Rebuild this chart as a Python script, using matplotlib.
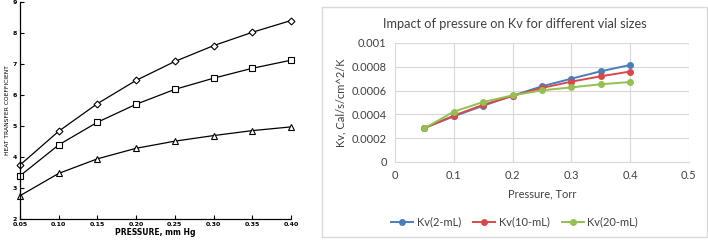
import numpy as np
import matplotlib.pyplot as plt

# left panel: scanned heat transfer coefficient chart
p_mmhg = [0.05, 0.10, 0.15, 0.20, 0.25, 0.30, 0.35, 0.40]
htc_diamond = [3.74, 4.83, 5.72, 6.47, 7.08, 7.59, 8.02, 8.40]
htc_square = [3.39, 4.39, 5.12, 5.70, 6.18, 6.54, 6.86, 7.12]
htc_triangle = [2.75, 3.47, 3.94, 4.28, 4.51, 4.69, 4.85, 4.97]
left_xticks = ['0.05', '0.10', '0.15', '0.20', '0.25', '0.30', '0.35', '0.40']

# right panel: Kv vs pressure for vial sizes
p_torr = [0.05, 0.10, 0.15, 0.20, 0.25, 0.30, 0.35, 0.40]
kv_2ml = [0.000285, 0.000384, 0.000473, 0.000557, 0.000636, 0.000700, 0.000762, 0.000815]
kv_10ml = [0.000285, 0.000390, 0.000480, 0.000555, 0.000622, 0.000675, 0.000720, 0.000760]
kv_20ml = [0.000283, 0.000423, 0.000504, 0.000560, 0.000602, 0.000627, 0.000653, 0.000672]
kv_labels = ['Kv(2-mL)', 'Kv(10-mL)', 'Kv(20-mL)']
kv_colors = ['#4a7ebb', '#d9484a', '#93c050']

fig = plt.figure(figsize=(7.08, 2.4), dpi=100)

# ---- left chart
ax1 = fig.add_axes([0.0282, 0.0875, 0.3828, 0.9045])
ax1.plot(p_mmhg, htc_diamond, 'k-', marker='D', ms=3.5, mfc='white', mew=0.8, lw=0.9, clip_on=False)
ax1.plot(p_mmhg, htc_square, 'k-', marker='s', ms=5, mfc='white', mew=0.8, lw=0.9, clip_on=False)
ax1.plot(p_mmhg, htc_triangle, 'k-', marker='^', ms=4.5, mfc='white', mew=0.8, lw=0.9, clip_on=False)
ax1.set_xlim(0.05, 0.40)
ax1.set_ylim(2, 9)
ax1.set_xticks(p_mmhg)
ax1.set_xticklabels(left_xticks)
ax1.set_yticks(range(2, 10))
ax1.spines['top'].set_visible(False)
ax1.spines['right'].set_visible(False)
for s in ['left', 'bottom']:
    ax1.spines[s].set_linewidth(0.9)
ax1.tick_params(direction='in', length=3, width=0.8, labelsize=4.5, pad=2)
for lab in ax1.get_xticklabels() + ax1.get_yticklabels():
    lab.set_fontweight('bold')
ax1.set_xlabel('PRESSURE, mm Hg', fontsize=5.5, fontweight='bold', labelpad=1)
ax1.set_ylabel('HEAT TRANSFER COEFFICIENT', fontsize=4.3, labelpad=2)

# ---- right chart (excel style)
xf = 'Lato'
grey = '#404040'
border = plt.Rectangle((0.455, 0.0125), 0.544, 0.958, transform=fig.transFigure,
                       fill=False, edgecolor='#d9d9d9', lw=1)
fig.patches.append(border)

ax2 = fig.add_axes([0.558, 0.325, 0.415, 0.496])
for y, lab, c in zip([kv_2ml, kv_10ml, kv_20ml], kv_labels, kv_colors):
    ax2.plot(p_torr, y, '-o', color=c, ms=4, lw=1.4, label=lab)
ax2.set_xlim(0, 0.5)
ax2.set_ylim(0, 0.001)
ax2.set_xticks([0, 0.1, 0.2, 0.3, 0.4, 0.5])
ax2.set_xticklabels(['0', '0.1', '0.2', '0.3', '0.4', '0.5'], family=xf)
ax2.set_yticks([0, 0.0002, 0.0004, 0.0006, 0.0008, 0.001])
ax2.set_yticklabels(['0', '0.0002', '0.0004', '0.0006', '0.0008', '0.001'], family=xf)
ax2.grid(True, color='#d9d9d9', lw=0.8)
ax2.set_axisbelow(True)
for s in ax2.spines.values():
    s.set_visible(False)
ax2.spines['bottom'].set_visible(True)
ax2.spines['bottom'].set_color('#d9d9d9')
ax2.tick_params(length=0, labelsize=8, labelcolor=grey, pad=6)
ax2.set_xlabel('Pressure, Torr', fontsize=8, color=grey, labelpad=5, family=xf)
ax2.set_ylabel('Kv, Cal/s/cm^2/K', fontsize=8, color=grey, labelpad=4, family=xf)
fig.text(0.727, 0.9, 'Impact of pressure on Kv for different vial sizes',
         ha='center', va='center', fontsize=9.2, color=grey, family=xf)
fig.legend(*ax2.get_legend_handles_labels(), loc='center', bbox_to_anchor=(0.727, 0.075),
           ncol=3, frameon=False, prop={'family': xf, 'size': 8}, labelcolor=grey,
           handlelength=2.0, columnspacing=1.1, handletextpad=0.3)

plt.savefig('out.png', dpi=100)
